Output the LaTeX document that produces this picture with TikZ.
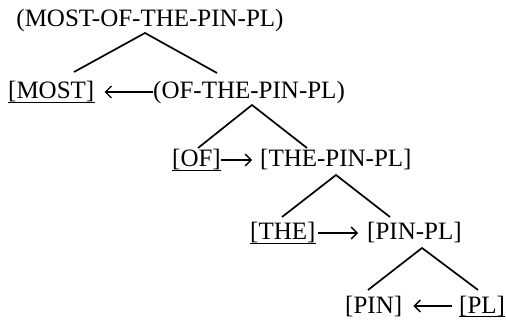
\documentclass[tikz,border=0pt]{standalone}
\usepackage{fontspec}
\setmainfont{Liberation Serif}
\usetikzlibrary{arrows.meta}
\begin{document}
\begin{tikzpicture}[x=1pt,y=-1pt,
  lbl/.style={inner sep=0pt,font=\fontsize{25}{30}\selectfont},
  branch/.style={line width=1.7pt},
  link/.style={line width=1.5pt,yshift=1.5pt,-{Straight Barb[length=6pt,width=12pt,line width=1.4pt]}},
  uline/.style={line width=1.3pt}]
\useasboundingbox (0,0) rectangle (506,320);

% constituent labels
\node[lbl] (top) at (150,20) {(MOST-OF-THE-PIN-PL)};
\node[lbl,anchor=west] (most) at (8,92) {[MOST]};
\node[lbl,anchor=west] (ofthe) at (153,92) {(OF-THE-PIN-PL)};
\node[lbl,anchor=west] (of) at (172,160) {[OF]};
\node[lbl,anchor=west] (thepinpl) at (260,160) {[THE-PIN-PL]};
\node[lbl,anchor=west] (the) at (250,233) {[THE]};
\node[lbl,anchor=west] (pinpl) at (367,233) {[PIN-PL]};
\node[lbl,anchor=west] (pin) at (345,306) {[PIN]};
\node[lbl,anchor=west] (pl) at (459,306) {[PL]};

% underlined heads
\foreach \n in {most,of,the,pl}
  \draw[uline] (\n.south west) -- (\n.south east);

% branching points
\coordinate (t0) at (145,33);  \coordinate (t1) at (74,72);   \coordinate (t2) at (217,73);
\coordinate (o0) at (252,105); \coordinate (o1) at (198,148); \coordinate (o2) at (307,148);
\coordinate (h0) at (336,175); \coordinate (h1) at (282,217); \coordinate (h2) at (390,217);
\coordinate (p0) at (422,248); \coordinate (p1) at (368,290); \coordinate (p2) at (478,290);

\draw[branch] (t1) -- (t0) -- (t2);
\draw[branch] (o1) -- (o0) -- (o2);
\draw[branch] (h1) -- (h0) -- (h2);
\draw[branch] (p1) -- (p0) -- (p2);

% dependency arrows
\draw[link,shorten >=10pt] (ofthe.west) -- (most.east);
\draw[link,shorten >=8pt] (of.east) -- (thepinpl.west);
\draw[link,shorten <=2pt,shorten >=9pt] (the.east) -- (pinpl.west);
\draw[link,shorten <=7pt,shorten >=11pt] (pl.west) -- (pin.east);
\end{tikzpicture}
\end{document}
